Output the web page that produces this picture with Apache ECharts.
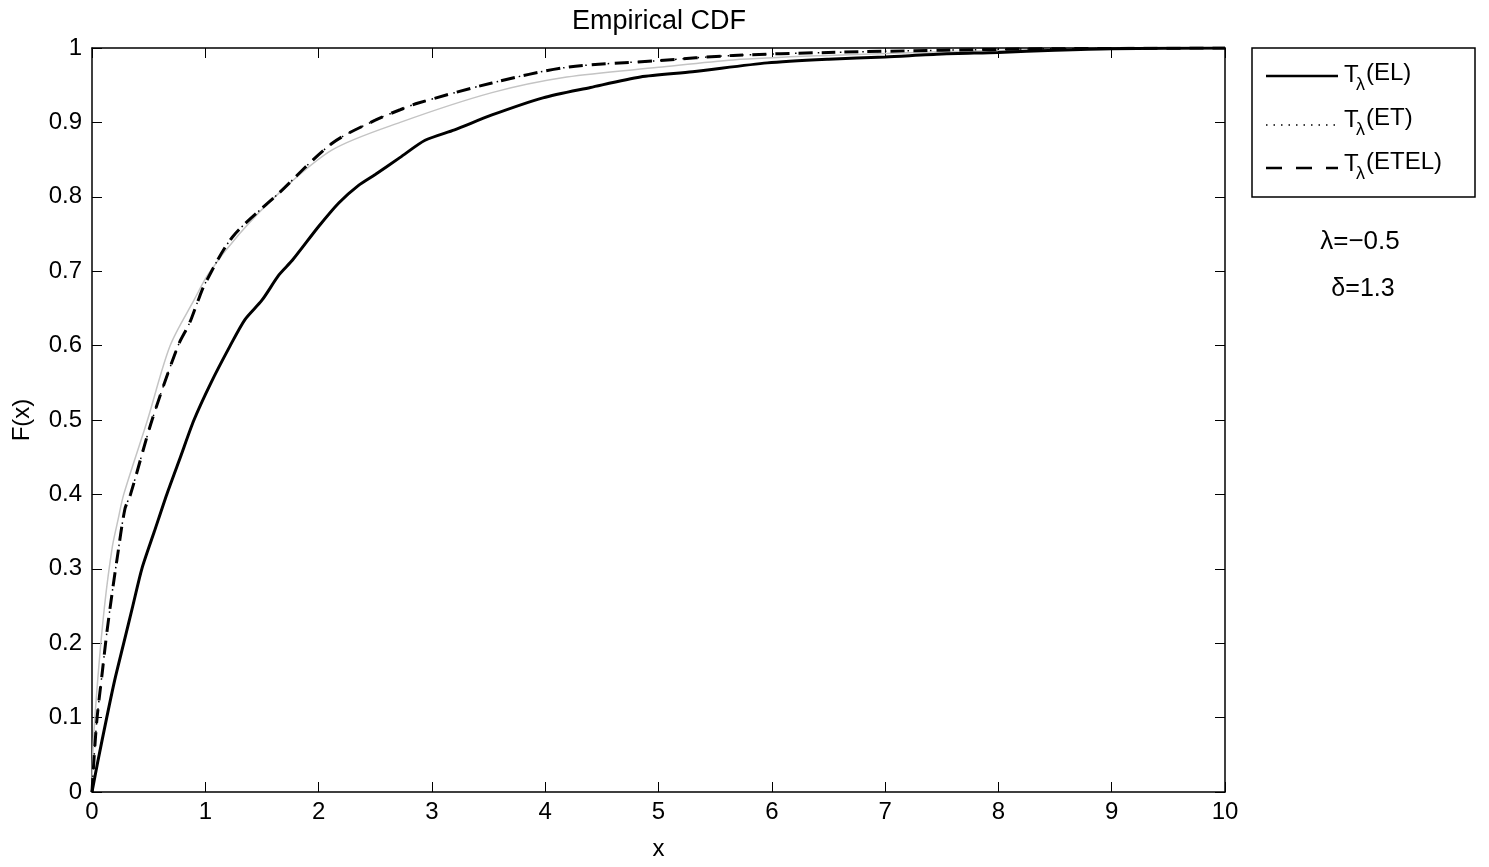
<!DOCTYPE html>
<html>
<head>
<meta charset="utf-8">
<script src="https://cdn.jsdelivr.net/npm/echarts@6/dist/echarts.min.js"></script>
<style>html,body{margin:0;padding:0;background:#fff;}#c{width:1489px;height:867px;}</style>
</head>
<body>
<div id="c"></div>
<script>
// ---- data ----
var xTickLabels = ['0','1','2','3','4','5','6','7','8','9','10'];
var yTickLabels = ['0','0.1','0.2','0.3','0.4','0.5','0.6','0.7','0.8','0.9','1'];

var elX = [0, 0.05, 0.13, 0.2, 0.28, 0.36, 0.44, 0.55, 0.66, 0.78, 0.9, 1.05, 1.22, 1.35, 1.5, 1.65, 1.77, 2.0, 2.18, 2.35, 2.5, 2.72, 2.94, 3.2, 3.53, 3.98, 4.4, 4.84, 5.3, 5.96, 6.5, 7.0, 7.5, 8.0, 8.5, 9.0, 10];
var elY = [0, 0.04, 0.1, 0.15, 0.2, 0.25, 0.3, 0.35, 0.4, 0.45, 0.5, 0.55, 0.6, 0.635, 0.661, 0.695, 0.715, 0.76, 0.792, 0.815, 0.83, 0.853, 0.876, 0.89, 0.91, 0.933, 0.947, 0.961, 0.968, 0.98, 0.985, 0.988, 0.992, 0.994, 0.997, 0.999, 1.0];

var etX = [0, 0.02, 0.045, 0.09, 0.13, 0.18, 0.22, 0.29, 0.34, 0.53, 0.76, 0.86, 0.93, 1.0, 1.24, 1.65, 2.12, 2.5, 2.72, 2.88, 3.53, 4.19, 5.0, 5.66, 6.5, 7.5, 8.5, 10];
var etY = [0, 0.05, 0.1, 0.16, 0.213, 0.27, 0.312, 0.38, 0.4, 0.5, 0.6, 0.63, 0.658, 0.684, 0.746, 0.805, 0.872, 0.903, 0.917, 0.926, 0.953, 0.974, 0.983, 0.99, 0.994, 0.997, 0.999, 1.0];

var etelX = [0, 0.02, 0.045, 0.09, 0.13, 0.18, 0.22, 0.29, 0.34, 0.53, 0.76, 0.86, 0.93, 1.0, 1.24, 1.65, 2.12, 2.5, 2.72, 2.88, 3.53, 4.19, 5.0, 5.66, 6.5, 7.5, 8.5, 10];
var etelY = [0, 0.05, 0.1, 0.16, 0.213, 0.27, 0.312, 0.38, 0.4, 0.5, 0.6, 0.63, 0.658, 0.684, 0.746, 0.805, 0.872, 0.903, 0.917, 0.926, 0.953, 0.974, 0.983, 0.99, 0.994, 0.997, 0.999, 1.0];

var refX = [0, 0.01, 0.05, 0.11, 0.18, 0.23, 0.28, 0.49, 0.69, 0.9, 1.03, 1.3, 1.65, 2.12, 2.72, 3.53, 4.19, 5.0, 5.66, 6.5, 7.5, 8.5, 10];
var refY = [0, 0.06, 0.15, 0.249, 0.33, 0.366, 0.4, 0.5, 0.6, 0.661, 0.697, 0.75, 0.805, 0.863, 0.9, 0.94, 0.961, 0.974, 0.984, 0.99, 0.995, 0.998, 1.0];

var seriesNames = ['T\u03bb(EL)', 'T\u03bb(ET)', 'T\u03bb(ETEL)'];
var legendMain = ['(EL)', '(ET)', '(ETEL)'];
var paramTexts = ['\u03bb=\u22120.5', '\u03b4=1.3'];

function pairs(xs, ys) { return xs.map(function (x, i) { return [x, ys[i]]; }); }

var FONT = '"Liberation Sans", Arial, sans-serif';
var chart = echarts.init(document.getElementById('c'), null, { renderer: 'canvas' });

function axisBase() {
  return {
    type: 'value',
    axisLine: { show: true, onZero: false, lineStyle: { color: '#000', width: 1.5 } },
    axisTick: { show: true, inside: true, length: 10, lineStyle: { color: '#000', width: 1 } },
    splitLine: { show: false }
  };
}

var legendRows = [
  { y: 76, dash: null, width: 2.5 },
  { y: 125, dash: [1.5, 6], width: 1.5 },
  { y: 168, dash: [16, 14], width: 2.5 }
];
var rowTop = [63, 108, 152];

var graphics = [
  { type: 'rect', shape: { x: 1252, y: 48, width: 223, height: 149 }, style: { fill: '#fff', stroke: '#000', lineWidth: 1.5 }, z: 10 }
];
legendRows.forEach(function (r, i) {
  graphics.push({ type: 'line', shape: { x1: 1266, y1: r.y, x2: 1338, y2: r.y },
    style: { stroke: '#000', lineWidth: r.width, lineDash: r.dash }, z: 11 });
  graphics.push({ type: 'text', z: 11, style: { text: 'T', x: 1344, y: rowTop[i], fontSize: 24, fontFamily: FONT, fill: '#000', verticalAlign: 'top' } });
  graphics.push({ type: 'text', z: 11, style: { text: '\u03bb', x: 1356, y: rowTop[i] + 13, fontSize: 18, fontFamily: FONT, fill: '#000', verticalAlign: 'top' } });
  graphics.push({ type: 'text', z: 11, style: { text: legendMain[i], x: 1366, y: rowTop[i] - 2, fontSize: 24, fontFamily: FONT, fill: '#000', verticalAlign: 'top' } });
});
graphics.push({ type: 'text', z: 11, style: { text: paramTexts[0], x: 1360, y: 242, fontSize: 26, fontFamily: FONT, fill: '#000', align: 'center', verticalAlign: 'middle' } });
graphics.push({ type: 'text', z: 11, style: { text: paramTexts[1], x: 1363, y: 289, fontSize: 25, fontFamily: FONT, fill: '#000', align: 'center', verticalAlign: 'middle' } });

var xBottom = axisBase();
Object.assign(xBottom, {
  position: 'bottom', min: 0, max: 10, interval: 1,
  name: 'x', nameLocation: 'middle', nameGap: 45,
  nameTextStyle: { fontFamily: FONT, fontSize: 24, color: '#000' },
  axisLabel: { margin: 8, fontFamily: FONT, fontSize: 24, color: '#000',
    formatter: function (v) { return xTickLabels[Math.round(v)]; } }
});
var xTop = axisBase();
Object.assign(xTop, { position: 'top', min: 0, max: 10, interval: 1, axisLabel: { show: false } });
var yLeft = axisBase();
Object.assign(yLeft, {
  position: 'left', min: 0, max: 1, interval: 0.1,
  name: 'F(x)', nameLocation: 'middle', nameGap: 58, nameRotate: 90,
  nameTextStyle: { fontFamily: FONT, fontSize: 24, color: '#000' },
  axisLabel: { margin: 10, fontFamily: FONT, fontSize: 24, color: '#000',
    formatter: function (v) { return yTickLabels[Math.round(v * 10)]; } }
});
var yRight = axisBase();
Object.assign(yRight, { position: 'right', min: 0, max: 1, interval: 0.1, axisLabel: { show: false } });

var option = {
  animation: false,
  backgroundColor: '#fff',
  title: {
    text: 'Empirical CDF', left: 654, top: 3, textAlign: 'center',
    textStyle: { fontFamily: FONT, fontSize: 27, fontWeight: 'normal', color: '#000' }
  },
  grid: { left: 92, right: 264, top: 48, bottom: 75, containLabel: false },
  xAxis: [xBottom, xTop],
  yAxis: [yLeft, yRight],
  series: [
    { name: 'ref', type: 'line', data: pairs(refX, refY), showSymbol: false, symbol: 'none',
      smooth: 0.3,
      lineStyle: { color: '#c4c4c4', width: 1.5 }, z: 1 },
    { name: seriesNames[0], type: 'line', data: pairs(elX, elY), showSymbol: false, symbol: 'none',
      smooth: 0.25,
      lineStyle: { color: '#000', width: 3 }, z: 3 },
    { name: seriesNames[1], type: 'line', data: pairs(etX, etY), showSymbol: false, symbol: 'none',
      smooth: 0.3,
      lineStyle: { color: '#000', width: 1.5, type: [1.5, 6] }, z: 3 },
    { name: seriesNames[2], type: 'line', data: pairs(etelX, etelY), showSymbol: false, symbol: 'none',
      smooth: 0.3,
      lineStyle: { color: '#000', width: 3, type: [14, 9] }, z: 3 }
  ],
  graphic: graphics
};
chart.setOption(option);
</script>
</body>
</html>
